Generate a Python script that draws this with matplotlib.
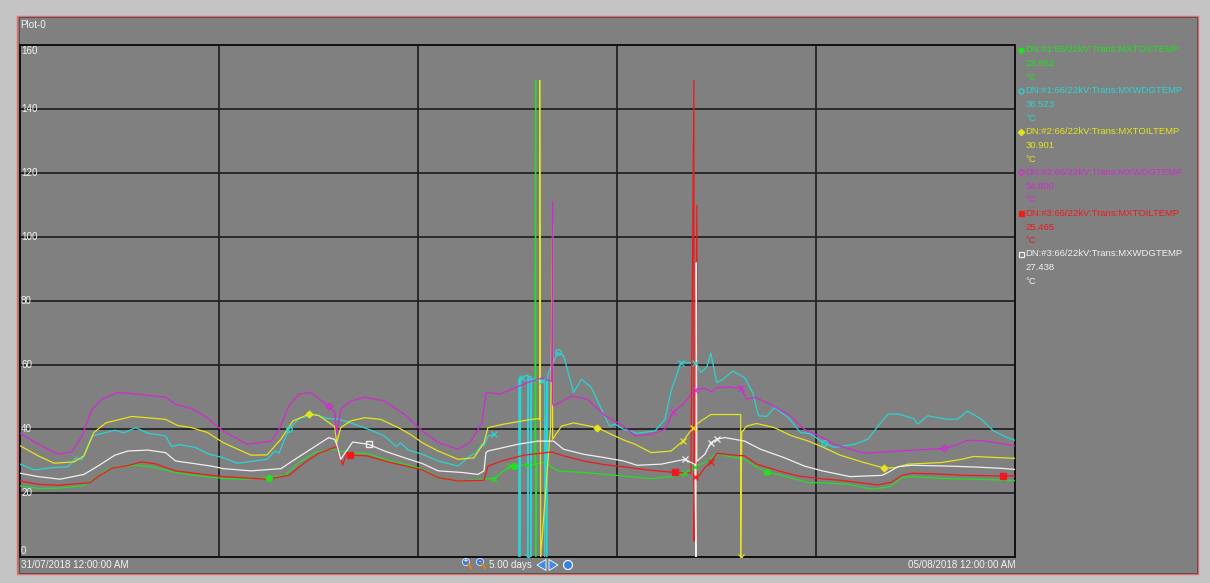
import matplotlib.pyplot as plt
import numpy as np
from matplotlib.patches import Rectangle, Circle, Polygon

nan = np.nan
plt.rcParams["font.family"] = ["Liberation Sans", "DejaVu Sans"]

# time axis in days from 31/07/2018 00:00, temperatures in degC
g_t = [0, 0.09, 0.19, 0.31, 0.375, 0.44, 0.5, 0.58, 0.66, 0.78, 0.88, 1.02, 1.13, 1.25, 1.33,
       1.40, 1.48, 1.56, 1.66, 1.75, 1.86, 1.95, 2.02, 2.1, 2.2, 2.38, 2.46, 2.48, 2.55, 2.585,
       2.59, 2.59, 2.595, 2.63, 2.65, 2.70, 2.83, 3.03, 3.17, 3.30, 3.34, 3.39, 3.44, 3.50,
       3.56, 3.64, 3.69, 3.75, 3.87, 3.96, 4.03, 4.16, 4.28, 4.37, 4.43, 4.49, 4.66, 4.85, 5.0]
g_v = [22.3, 21.5, 21.6, 22.3, 24.4, 27.5, 28.2, 28.75, 28.3, 26.5, 25.6, 24.6, 24.4, 24.9, 25.6,
       29.6, 32.7, 33.75, 32.7, 32.3, 30.1, 28.8, 27.5, 24.9, 23.85, 24.6, 28.5, 28.6, 28.9, 29.0,
       149, 0, 29.2, 29.6, 29.0, 27.0, 26.5, 25.4, 24.6, 25.4, 26.25, 28.3, 29.6, 32.5,
       31.5, 30.6, 28.5, 26.7, 24.9, 23.3, 23.3, 22.8, 21.25, 22.1, 24.9, 25.2, 24.6, 24.3, 23.962]

c_t = [0, 0.07, 0.16, 0.24, 0.28, 0.31, 0.36, 0.43, 0.475, 0.52, 0.58, 0.64, 0.73, 0.76, 0.80,
       0.88, 0.95, 1.02, 1.09, 1.24, 1.28, 1.30, 1.35, 1.40, 1.48, 1.54, 1.60, 1.66, 1.75, 1.83,
       1.89, 1.91, 1.95, 2.02, 2.1, 2.2, 2.26, 2.29, 2.32, 2.33, 2.35, 2.38, 2.40, 2.505, 2.505,
       2.51, 2.51, 2.515, 2.55, 2.55, 2.555, 2.565, 2.565, 2.57, 2.62, 2.635, 2.635, 2.645,
       2.645, 2.65, 2.70, 2.73, 2.78, 2.82, 2.87, 2.92, 2.96, 2.99, 3.03, 3.10, 3.19, 3.24, 3.27,
       3.32, 3.39, 3.42, 3.45, 3.47, 3.50, 3.53, 3.58, 3.64, 3.68, 3.71, 3.75, 3.79, 3.86, 3.92,
       3.97, 4.04, 4.09, 4.19, 4.26, 4.31, 4.36, 4.41, 4.49, 4.51, 4.56, 4.66, 4.71, 4.76, 4.83,
       4.89, 4.96, 5.0]
c_v = [29.1, 27.3, 28.0, 28.3, 31.1, 30.5, 37.9, 39.0, 39.7, 38.9, 40.5, 38.8, 37.9, 34.6, 35.2,
       34.3, 32.2, 31.1, 29.4, 30.6, 33.2, 32.6, 40.0, 43.3, 44.7, 43.4, 43.1, 42.0, 40.0, 37.9,
       34.6, 35.8, 33.5, 32.2, 30.1, 28.5, 31.7, 32.5, 35.3, 34.8, 37.9, 38.4, nan, 0, 55.5,
       56.1, 0, 56.0, 57.0, 0, 56.5, 56.5, 0, 55.8, 55.1, 55.0, 0,
       55.0, 0, 57.0, 64.0, 63.0, 51.5, 55.6, 53.0, 46.3, 41.0, 41.6, 40.0, 38.75, 39.5, 43.1, 52.0,
       60.8, 60.8, 57.7, 59.5, 63.75, 54.6, 55.5, 58.2, 56.1, 51.5, 44.2, 44.0, 46.8, 43.6, 39.0,
       38.6, 35.6, 34.3, 35.3, 36.9, 41.0, 44.7, 44.8, 43.3, 41.6, 44.2, 43.1, 43.2, 45.7, 43.1,
       39.5, 37.4, 36.523]

y_t = [0, 0.09, 0.17, 0.27, 0.32, 0.37, 0.43, 0.56, 0.73, 0.79, 0.86, 0.94, 1.02, 1.16, 1.24,
       1.31, 1.37, 1.45, 1.50, 1.58, 1.59, 1.61, 1.66, 1.73, 1.81, 1.90, 1.96, 2.02, 2.1, 2.2,
       2.28, 2.33, 2.35, 2.43, 2.55, 2.60, 2.61, 2.61, 2.615, 2.665, 2.675, 2.675, 2.72, 2.78,
       2.90, 2.97, 3.03, 3.09, 3.17, 3.27, 3.33, 3.38, 3.42, 3.47, 3.62, 3.62, 3.625, 3.65, 3.70,
       3.79, 3.87, 3.96, 4.03, 4.12, 4.24, 4.34, 4.40, 4.46, 4.63, 4.73, 4.79, 5.0]
y_v = [34.8, 31.7, 29.4, 29.8, 31.7, 39.0, 42.0, 44.0, 43.1, 41.2, 40.5, 39.0, 35.8, 31.9, 32.0,
       36.9, 42.6, 44.7, 44.3, 40.8, 35.8, 40.5, 42.6, 43.6, 43.1, 40.5, 38.4, 35.8, 33.2, 30.6,
       31.1, 35.8, 40.5, 41.6, 42.9, 43.3, 43.0, 149, 0, 41.0, 104, 36.9, 41.0, 42.0,
       40.5, 38.4, 36.7, 35.3, 32.7, 33.2, 36.3, 40.5, 42.6, 44.6, 44.6, 0, 39.0, 41.0, 41.8,
       40.5, 38.1, 36.3, 34.5, 31.9, 29.6, 27.9, 28.0, 29.1, 29.6, 30.6, 31.5, 30.901]

m_t = [0, 0.1, 0.19, 0.26, 0.31, 0.36, 0.41, 0.49, 0.59, 0.73, 0.78, 0.86, 0.93, 1.02, 1.14,
       1.26, 1.30, 1.35, 1.40, 1.46, 1.55, 1.58, 1.59, 1.61, 1.66, 1.73, 1.83, 1.93, 2.02, 2.1,
       2.2, 2.26, 2.32, 2.34, 2.41, 2.55, 2.62, 2.67, 2.675, 2.675, 2.68, 2.77, 2.85, 2.94, 3.03,
       3.09, 3.17, 3.24, 3.28, 3.33, 3.39, 3.44, 3.47, 3.50, 3.56, 3.62, 3.65, 3.69, 3.77, 3.87,
       3.94, 4.03, 4.09, 4.24, 4.41, 4.64, 4.70, 4.76, 4.85, 5.0]
m_v = [38.7, 35.0, 32.2, 33.0, 37.9, 46.2, 49.4, 51.5, 51.0, 50.0, 47.8, 46.5, 44.0, 39.4, 35.3,
       36.3, 40.0, 47.3, 51.0, 51.5, 47.2, 45.4, 38.4, 46.3, 48.8, 50.0, 48.8, 44.7, 39.5, 35.9,
       33.75, 35.9, 42.0, 51.5, 51.0, 54.6, 56.0, 55.0, 111, 48.0, 47.3, 50.4, 49.4, 44.2, 41.0,
       37.9, 38.4, 40.0, 45.3, 47.8, 52.3, 52.8, 51.7, 53.0, 53.2, 52.8, 49.4, 50.0, 47.8, 44.2,
       40.0, 37.4, 35.3, 32.5, 33.2, 34.0, 35.0, 36.6, 36.3, 34.8]

r_t = [0, 0.09, 0.19, 0.35, 0.40, 0.46, 0.53, 0.61, 0.68, 0.78, 0.87, 1.02, 1.24, 1.35, 1.43,
       1.50, 1.59, 1.605, 1.62, 1.64, 1.655, 1.74, 1.86, 1.94, 2.02, 2.1, 2.2, 2.33, 2.35, 2.42,
       2.53, 2.67, 2.73, 2.83, 2.93, 3.03, 3.15, 3.29, 3.37, 3.385, 3.385, 3.39, 3.40, 3.40,
       3.405, 3.44, 3.47, 3.50, 3.57, 3.64, 3.70, 3.81, 3.91, 4.03, 4.12, 4.31, 4.38, 4.43, 4.48,
       4.62, 4.74, 4.94, 5.0]
r_v = [23.85, 22.8, 22.5, 23.3, 25.6, 27.8, 28.5, 29.8, 29.2, 27.0, 26.3, 25.2, 24.4, 25.6, 29.6,
       32.5, 34.6, 31.5, 28.75, 32.9, 31.9, 31.7, 29.6, 28.5, 27.3, 24.9, 23.85, 24.06, 28.5, 30.1,
       31.9, 32.9, 31.7, 30.1, 29.0, 28.3, 27.3, 26.5, 26.3, 149, 5, 25.0, 110, 24.0,
       25.0, 28.0, 29.8, 32.5, 32.0, 31.7, 29.1, 27.0, 25.4, 24.5, 24.06, 22.6, 23.5, 25.6, 26.25,
       26.0, 25.6, 25.4, 25.465]

w_t = [0, 0.09, 0.20, 0.32, 0.39, 0.475, 0.54, 0.64, 0.73, 0.78, 0.87, 0.96, 1.02, 1.16, 1.31,
       1.38, 1.48, 1.55, 1.58, 1.59, 1.61, 1.67, 1.75, 1.83, 1.93, 2.02, 2.1, 2.22, 2.30, 2.33,
       2.34, 2.35, 2.50, 2.60, 2.68, 2.73, 2.83, 2.94, 3.03, 3.10, 3.22, 3.34, 3.39, 3.395, 3.397,
       3.40, 3.44, 3.47, 3.50, 3.54, 3.64, 3.72, 3.84, 3.94, 4.03, 4.17, 4.33, 4.36, 4.41, 4.48,
       4.66, 4.80, 4.93, 5.0]
w_v = [26.25, 25.2, 24.4, 25.9, 28.5, 31.9, 33.2, 33.5, 32.7, 30.1, 29.3, 28.5, 27.7, 27.0, 27.7,
       30.6, 34.6, 37.4, 36.8, 35.3, 30.6, 36.0, 35.3, 33.2, 31.1, 29.3, 27.0, 26.5, 25.9, 27.0,
       32.7, 33.2, 35.3, 36.3, 36.3, 33.75, 32.2, 31.1, 30.1, 28.75, 29.1, 30.6, 29.0, 0, 92,
       30.0, 32.2, 35.8, 36.9, 37.4, 36.3, 33.75, 31.1, 28.5, 27.0, 25.2, 25.6, 26.5, 28.3, 28.75,
       28.5, 28.2, 27.8, 27.438]

# marker positions (days) along each trend
g_mk, g_x = [1.25, 2.48, 3.75], [2.38, 2.46, 2.55, 3.34, 3.39]
c_mk, c_x = [1.35, 2.70, 4.04], [2.38, 2.52, 2.55, 2.62, 3.32, 3.39]
y_mk, y_x = [1.45, 2.90, 4.34], [3.33, 3.38, 3.62]
m_mk, m_x = [1.55, 4.64], [3.28, 3.39, 3.62]
r_mk, r_x = [1.655, 3.29, 4.94], [3.39, 3.47]
w_mk, w_x = [1.75], [3.34, 3.47, 3.50]

names = ["DN:#1:66/22kV:Trans:MXTOILTEMP", "DN:#1:66/22kV:Trans:MXWDGTEMP",
         "DN:#2:66/22kV:Trans:MXTOILTEMP", "DN:#2:66/22kV:Trans:MXWDGTEMP",
         "DN:#3:66/22kV:Trans:MXTOILTEMP", "DN:#3:66/22kV:Trans:MXWDGTEMP"]
colors = ["#22e022", "#2ad4d4", "#e4e41c", "#d22ad2", "#f01a1a", "#f0f0f0"]
shapes = ["o", "o", "D", "D", "s", "s"]
filled = [True, False, True, False, True, False]
times = [g_t, c_t, y_t, m_t, r_t, w_t]
vals = [g_v, c_v, y_v, m_v, r_v, w_v]
marks = [g_mk, c_mk, y_mk, m_mk, r_mk, w_mk]
xmarks = [g_x, c_x, y_x, m_x, r_x, w_x]

y_ticks = [0, 20, 40, 60, 80, 100, 120, 140, 160]
start_label = "31/07/2018 12:00:00 AM"
end_label = "05/08/2018 12:00:00 AM"
span_label = "5.00 days"

W, H = 1210, 583
fig = plt.figure(figsize=(W / 100, H / 100), dpi=100, facecolor="#c4c4c4")

# pixel-space overlay for the panel frame and text
bg = fig.add_axes([0, 0, 1, 1])
bg.set_xlim(0, W)
bg.set_ylim(H, 0)
bg.axis("off")
bg.add_patch(Rectangle((17, 15.5), 1181, 558.5, fc="#808080", ec="#e46a6a", lw=1.0))
bg.add_patch(Rectangle((18.5, 17), 1178, 555.5, fc="none", ec="#4a4a4a", lw=0.6))
tcol = "#f2f2f2"
fs = 7.1
lfs = 6.8
bg.text(20, 24.5, "Plot-0", color=tcol, fontsize=fs, va="center")
bg.text(21, 565, start_label, color=tcol, fontsize=fs, va="center")
bg.text(1015, 565, end_label, color=tcol, fontsize=fs, va="center", ha="right")
bg.text(489, 565, span_label, color=tcol, fontsize=fs, va="center")

# navigation icons under the plot
for cx, sym in [(466, "+"), (480, "-")]:
    bg.plot([cx + 2, cx + 5], [564, 568], color="#e08020", lw=1.6)
    bg.add_patch(Circle((cx, 562), 3.6, fc="#3f78d8", ec="#dde8ff", lw=0.6))
    bg.text(cx, 562, sym, color="white", fontsize=5, ha="center", va="center", fontweight="bold")
bg.add_patch(Polygon([[537, 565], [546, 559.5], [546, 570.5]], fc="#3d8be8", ec="white", lw=0.6))
bg.add_patch(Polygon([[558, 565], [549, 559.5], [549, 570.5]], fc="#3d8be8", ec="white", lw=0.6))
bg.add_patch(Circle((568, 565), 4.5, fc="#3d7fe0", ec="white", lw=0.8))

# main trend area
x0, x1, ytop, ybot = 20.3, 1015.3, 44.5, 557.3
ax = fig.add_axes([x0 / W, (H - ybot) / H, (x1 - x0) / W, (ybot - ytop) / H])
ax.set_facecolor("#808080")
ax.set_xlim(0, 5)
ax.set_ylim(0, 160.2)
ax.set_xticks([1, 2, 3, 4])
ax.set_yticks(y_ticks)
ax.tick_params(length=0, labelleft=False, labelbottom=False)
ax.grid(True, color="#1c1c1c", lw=1.2)
ax.set_axisbelow(True)
for s in ax.spines.values():
    s.set_color("#111111")
    s.set_linewidth(1.4)

for v in y_ticks:
    ax.text(0.004, min(max(v, 2.0), 158.2), str(v), color=tcol, fontsize=fs, va="center")

for i in range(6):
    t = np.array(times[i], dtype=float)
    v = np.array(vals[i], dtype=float)
    ax.plot(t, v, color=colors[i], lw=0.9, zorder=3)
    ok = ~np.isnan(v)
    mv = np.interp(marks[i], t[ok], v[ok])
    ax.plot(marks[i], mv, ls="none", marker=shapes[i], ms=4.0 if shapes[i] != "D" else 3.4,
            mfc=colors[i] if filled[i] else "none", mec=colors[i], mew=1.0, zorder=4)
    xv = np.interp(xmarks[i], t[ok], v[ok])
    ax.plot(xmarks[i], xv, ls="none", marker="x", ms=4, mec=colors[i], mew=0.9, zorder=4)

# legend column
for i in range(6):
    yy = 50 + 40.8 * i
    bg.plot([1020.7], [yy], ls="none", marker=shapes[i], ms=3.6 if shapes[i] != "D" else 3.2,
            mfc=colors[i] if filled[i] else "none", mec=colors[i], mew=0.9)
    bg.text(1025.7, yy, names[i], color=colors[i], fontsize=lfs, va="center")
    bg.text(1025.7, yy + 13.8, "%.3f" % vals[i][-1], color=colors[i], fontsize=lfs, va="center")
    bg.text(1025.7, yy + 27.4, "°C", color=colors[i], fontsize=lfs, va="center")

fig.savefig("out.png", dpi=100, facecolor=fig.get_facecolor())
